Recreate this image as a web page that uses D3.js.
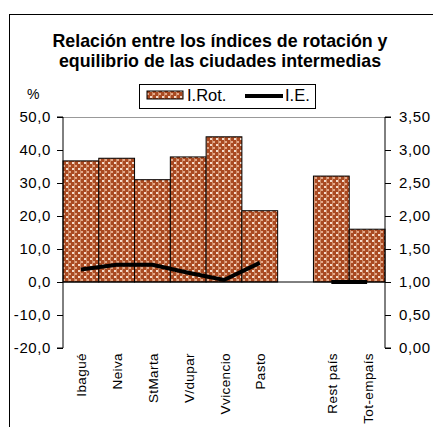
<!DOCTYPE html>
<html><head><meta charset="utf-8">
<script src="https://cdn.jsdelivr.net/npm/d3@7"></script>
<style>body{margin:0;background:#fff}svg{display:block;font-family:"Liberation Sans",Arial,sans-serif}</style>
</head><body><svg id="c" width="433" height="427"></svg>
<script>
const categories = ["Ibagué","Neiva","StMarta","V/dupar","Vvicencio","Pasto","","Rest país","Tot-empaís"];
const rotValues = [36.7, 37.5, 31.0, 37.9, 44.0, 21.6, null, 32.1, 16.0];
const ieValues = [1.19, 1.26, 1.26, 1.14, 1.03, 1.29, null, 1.00, 1.00];
const leftTicks = [50, 40, 30, 20, 10, 0, -10, -20];
const rightTicks = [3.5, 3.0, 2.5, 2.0, 1.5, 1.0, 0.5, 0.0];
const titleLines = ["Relación entre los índices de rotación y", "equilibrio de las ciudades intermedias"];

const svg = d3.select("#c");
const defs = svg.append("defs");
const pat = defs.append("pattern").attr("id","hatch").attr("patternUnits","userSpaceOnUse").attr("width",6).attr("height",6);
pat.append("rect").attr("width",6).attr("height",6).attr("fill","#a94a22");
pat.append("rect").attr("x",0).attr("y",0).attr("width",2).attr("height",2).attr("fill","#f4dccd");
pat.append("rect").attr("x",3).attr("y",3).attr("width",2).attr("height",2).attr("fill","#e3a98a");
pat.append("rect").attr("x",2).attr("y",0).attr("width",1).attr("height",6).attr("fill","#cf8a66");

// frame
svg.append("rect").attr("x",9.5).attr("y",14.5).attr("width",440).attr("height",430)
  .attr("fill","none").attr("stroke","#000").attr("stroke-width",1);

const L = 63, R = 385, T = 117, B = 348;
const x = d3.scaleBand().domain(d3.range(categories.length)).range([L, R]).padding(0);
const yL = d3.scaleLinear().domain([-20, 50]).range([B, T]);
const yR = d3.scaleLinear().domain([0, 3.5]).range([B, T]);
const fmt1 = v => d3.format(".1f")(v).replace(".", ",").replace("−","-");
const fmt2 = v => d3.format(".2f")(v).replace(".", ",");

// title
svg.append("g").selectAll("text").data(titleLines).join("text")
  .attr("x", 220).attr("y", (d,i) => 47 + i*19.5).attr("text-anchor","middle")
  .attr("font-weight","bold").attr("font-size", 17.8).text(d => d);

// top plot border
svg.append("line").attr("x1",L).attr("x2",R).attr("y1",T+0.5).attr("y2",T+0.5).attr("stroke","#999");

// bars
svg.append("g").selectAll("rect").data(rotValues.map((v,i)=>({v,i})).filter(d=>d.v!=null)).join("rect")
  .attr("x", d => x(d.i)).attr("width", x.bandwidth())
  .attr("y", d => yL(d.v)).attr("height", d => yL(0) - yL(d.v))
  .attr("fill","url(#hatch)").attr("stroke","#000").attr("stroke-width",1);

// zero line
svg.append("line").attr("x1",L).attr("x2",R).attr("y1",yL(0)).attr("y2",yL(0)).attr("stroke","#000");

// axes
const axL = d3.axisLeft(yL).tickValues(leftTicks).tickFormat(fmt1).tickSize(6).tickPadding(6);
const gL = svg.append("g").attr("transform",`translate(${L},0)`).call(axL);
const axR = d3.axisRight(yR).tickValues(rightTicks).tickFormat(fmt2).tickSize(6).tickPadding(8);
const gR = svg.append("g").attr("transform",`translate(${R},0)`).call(axR);
[gL,gR].forEach(g => {
  g.selectAll("text").attr("font-size",15).attr("letter-spacing",0.6).attr("font-family","Liberation Sans, Arial, sans-serif").attr("fill","#000");
  g.selectAll("line,path").attr("stroke","#000");
  g.select(".domain").attr("d", g === gL ? `M-6,${T}H0V${B}H-6` : `M6,${T}H0V${B}H6`);
});

// line I.E.
const line = d3.line().defined(d => d.v != null).x(d => x(d.i) + x.bandwidth()/2).y(d => yR(d.v));
svg.append("path").datum(ieValues.map((v,i)=>({v,i})))
  .attr("d", line).attr("fill","none").attr("stroke","#000").attr("stroke-width",4);

// x labels
svg.append("g").selectAll("text").data(categories.map((c,i)=>({c,i})).filter(d=>d.c)).join("text")
  .attr("transform", d => `translate(${x(d.i)+x.bandwidth()/2+5.5},353) rotate(-90)`)
  .attr("text-anchor","end").attr("font-size",13.5).attr("letter-spacing",0.4).text(d => d.c);

// % label
svg.append("text").attr("x",27).attr("y",99).attr("font-size",14).text("%");

// legend
const lg = svg.append("g");
lg.append("rect").attr("x",139.5).attr("y",84.5).attr("width",176).attr("height",24).attr("fill","#fff").attr("stroke","#000");
lg.append("rect").attr("x",147).attr("y",91).attr("width",36).attr("height",8).attr("fill","url(#hatch)").attr("stroke","#000");
lg.append("text").attr("x",187).attr("y",101).attr("font-size",16.5).text("I.Rot.");
lg.append("line").attr("x1",245).attr("x2",283).attr("y1",96).attr("y2",96).attr("stroke","#000").attr("stroke-width",4);
lg.append("text").attr("x",285).attr("y",101).attr("font-size",16.5).text("I.E.");
</script></body></html>
